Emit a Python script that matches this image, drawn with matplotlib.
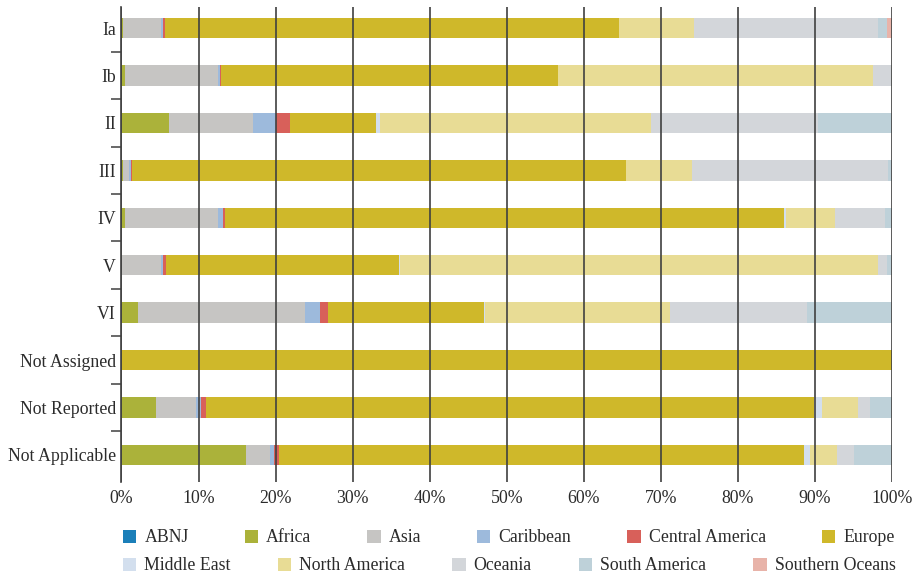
import matplotlib
matplotlib.use("Agg")
import matplotlib.pyplot as plt
from matplotlib.patches import Patch
import numpy as np

# --- Data (percent of each category) ---
categories = ["Ia", "Ib", "II", "III", "IV", "V", "VI",
              "Not Assigned", "Not Reported", "Not Applicable"]

regions = ["ABNJ", "Africa", "Asia", "Caribbean", "Central America", "Europe",
           "Middle East", "North America", "Oceania", "South America",
           "Southern Oceans"]

abnj = [0, 0, 0, 0, 0, 0, 0, 0, 0, 0]
africa = [0.2, 0.45, 6.15, 0.2, 0.5, 0, 2.14, 0, 4.48, 16.16]
asia = [4.9, 12.1, 10.9, 0.8, 12.0, 5.1, 21.67, 0, 5.19, 3.11]
caribbean = [0.3, 0.2, 2.95, 0.2, 0.65, 0.26, 1.95, 0, 0.65, 0.52]
central_america = [0.2, 0.13, 1.85, 0.1, 0.26, 0.39, 1.04, 0, 0.65, 0.65]
europe = [59.0, 43.77, 11.16, 64.18, 72.57, 30.26, 20.25, 100, 78.91, 68.14]
middle_east = [0, 0, 0.52, 0, 0.26, 0.1, 0.17, 0, 1.04, 0.78]
north_america = [9.7, 40.9, 35.17, 8.56, 6.36, 62.07, 23.93, 0, 4.67, 3.5]
oceania = [23.9, 2.4, 21.64, 25.44, 6.49, 1.2, 17.82, 0, 1.56, 2.2]
south_america = [1.2, 0, 9.64, 0.52, 0.91, 0.6, 11.03, 0, 2.85, 4.94]
southern_oceans = [0.6, 0, 0, 0, 0, 0, 0, 0, 0, 0]

series = [abnj, africa, asia, caribbean, central_america, europe,
          middle_east, north_america, oceania, south_america, southern_oceans]

colors = ["#1b7fb9", "#abb23a", "#c6c5c3", "#9dbadc", "#d8605a", "#cfb82a",
          "#d3dfee", "#e8dc95", "#d3d6da", "#bed1d9", "#e8b3a9"]

TEXT = "#2b2b2b"
LINE = "#404040"

plt.rcParams["font.family"] = ["Liberation Serif", "DejaVu Serif"]
plt.rcParams["font.size"] = 12.8

# --- Create the chart ---
fig = plt.figure(figsize=(9.2, 5.79), dpi=100)
ax = fig.add_axes([121.5 / 920, 1 - 482 / 579, (892 - 121.5) / 920, (482 - 7) / 579])

y = np.arange(len(categories))
left = np.zeros(len(categories))
for name, vals, col in zip(regions, series, colors):
    ax.barh(y, vals, left=left, height=0.43, color=col, label=name, zorder=1)
    left += np.array(vals)

ax.set_xlim(0, 100)
ax.set_ylim(9.57, -0.443)

# x axis: percent labels, no tick marks
ax.set_xticks(np.arange(0, 101, 10))
ax.set_xticklabels([f"{v}%" for v in range(0, 101, 10)], color=TEXT)
ax.tick_params(axis="x", length=0, pad=6)

# y axis: labels without marks, small marks between categories
ax.set_yticks(y)
ax.set_yticklabels(categories, color=TEXT)
ax.tick_params(axis="y", which="major", length=0, pad=4)
ax.set_yticks(np.arange(len(categories) - 1) + 0.5, minor=True)
ax.tick_params(axis="y", which="minor", length=7, width=1.1, color=LINE)

for side in ["top", "right", "bottom"]:
    ax.spines[side].set_visible(False)
ax.spines["left"].set_color(LINE)
ax.spines["left"].set_linewidth(1.2)

# vertical gridlines drawn over the bars
ax.set_axisbelow(False)
ax.grid(axis="x", color=LINE, linewidth=1.2, zorder=3)

# --- Legend in two rows ---
handles = [Patch(facecolor=c, edgecolor="none") for c in colors]
row1 = fig.legend(handles[:6], regions[:6], loc="center left",
                  bbox_to_anchor=(123 / 920, 1 - 538 / 579), ncol=6,
                  frameon=False, borderaxespad=0, borderpad=0,
                  handlelength=0.75, handleheight=0.75, handletextpad=0.45,
                  columnspacing=3.15, labelcolor=TEXT)
row2 = fig.legend(handles[6:], regions[6:], loc="center left",
                  bbox_to_anchor=(123 / 920, 1 - 566 / 579), ncol=5,
                  frameon=False, borderaxespad=0, borderpad=0,
                  handlelength=0.75, handleheight=0.75, handletextpad=0.45,
                  columnspacing=2.65, labelcolor=TEXT)

fig.savefig("out.png", dpi=100)
